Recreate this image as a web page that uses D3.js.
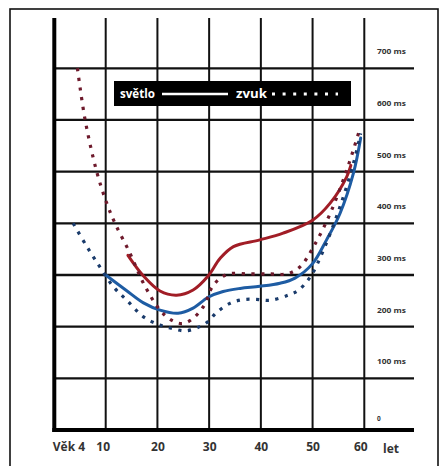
<!DOCTYPE html>
<html><head><meta charset="utf-8">
<script src="https://cdn.jsdelivr.net/npm/d3@7"></script>
<style>body{margin:0;background:#fff}svg{display:block}</style>
</head><body>
<script>
// ---- data ----
const ageTicks = [4, 10, 20, 30, 40, 50, 60];
const ageTickLabels = ["Věk 4", "10", "20", "30", "40", "50", "60"];
const msTicks = [0, 100, 200, 300, 400, 500, 600, 700];
const msTickLabels = ["0", "100 ms", "200 ms", "300 ms", "400 ms", "500 ms", "600 ms", "700 ms"];
const legendLabels = ["světlo", "zvuk"];

const redLightAge = [14.3, 17.3, 20.5, 23.7, 26.9, 29.8, 32.1, 34.7, 39.8, 44.3, 50, 53.4, 56.6, 57.4];
const redLightMs  = [338, 298, 269, 261, 271, 298, 332, 355, 368, 381, 406, 439, 490, 512];

const blueLightAge = [10, 14, 17.3, 20.5, 24.0, 26.9, 29.8, 32.7, 36, 39.8, 43.7, 46.6, 50, 52.7, 55.3, 57.9, 59.3];
const blueLightMs  = [300, 270, 246, 232, 226, 236, 257, 268, 274, 278, 284, 294, 322, 368, 419, 497, 565];

const redSoundAge = [6.7, 7.6, 8.95, 10.2, 11.8, 14.7, 17.3, 20.5, 22.8, 24.7, 26.5, 28.9, 30.8, 33.4, 38, 42, 45, 47.6, 50.2, 53.4, 56.6, 59.0];
const redSoundMs  = [700, 600, 500, 439, 400, 342, 284, 232, 212, 206, 213, 239, 280, 301, 302, 302, 302, 316, 355, 419, 503, 578];

const blueSoundAge = [6.2, 7.8, 9.3, 11.5, 14, 17.3, 20.5, 23.0, 25.5, 28.2, 29.8, 31.5, 34, 36.3, 39, 41.8, 45.3, 47.2, 49.6, 52.1, 55.3, 57.9, 59.3];
const blueSoundMs  = [400, 355, 316, 277, 252, 219, 203, 196, 192, 200, 210, 228, 245, 252, 253, 251, 261, 270, 297, 348, 432, 516, 574];

// ---- chart ----
const W = 440, H = 466;
const svg = d3.select("body").append("svg").attr("width", W).attr("height", H);
svg.append("rect").attr("width", W).attr("height", H).attr("fill", "#fff");
svg.append("rect").attr("x", 10).attr("y", 9).attr("width", 428).attr("height", 470)
  .attr("fill", "none").attr("stroke", "#111").attr("stroke-width", 1.6);

const x = d3.scaleLinear().domain([4, 10, 60]).range([54.3, 105.7, 364.3]);
const y = d3.scaleLinear().domain([0, 700]).range([430, 68.3]);
const xRight = 414, yTop = 18;

// horizontal grid
svg.append("g").selectAll("line").data(msTicks.filter(d => d > 0)).join("line")
  .attr("x1", x(4)).attr("x2", xRight).attr("y1", d => y(d)).attr("y2", d => y(d))
  .attr("stroke", "#111").attr("stroke-width", 2.3);
// vertical grid
svg.append("g").selectAll("line").data(ageTicks.filter(d => d > 4)).join("line")
  .attr("x1", d => x(d)).attr("x2", d => x(d)).attr("y1", yTop).attr("y2", y(0))
  .attr("stroke", "#111").attr("stroke-width", 2);
// axes lines
svg.append("line").attr("x1", x(4)).attr("x2", x(4)).attr("y1", yTop).attr("y2", y(0) + 2)
  .attr("stroke", "#000").attr("stroke-width", 4);
svg.append("line").attr("x1", x(4) - 2).attr("x2", xRight).attr("y1", y(0)).attr("y2", y(0))
  .attr("stroke", "#000").attr("stroke-width", 4);

// y labels
svg.append("g").selectAll("text").data(msTicks).join("text")
  .attr("x", 377).attr("y", d => d === 0 ? y(d) - 9 : y(d) - 14)
  .attr("font-family", "Open Sans, sans-serif").attr("font-size", 6.5).attr("font-weight", 700)
  .attr("fill", "#333").attr("textLength", d => d === 0 ? null : 29).attr("lengthAdjust", "spacingAndGlyphs")
  .text((d, i) => msTickLabels[i]);

// x axis labels through d3 axis
const xAxis = d3.axisBottom(x).tickValues(ageTicks).tickSize(0)
  .tickFormat((d, i) => ageTickLabels[i]);
const gx = svg.append("g").attr("transform", `translate(0,${y(0) + 9})`).call(xAxis);
gx.select(".domain").remove();
gx.selectAll("text").attr("font-family", "Open Sans, sans-serif").attr("font-size", 12)
  .attr("font-weight", 700).attr("fill", "#333");
gx.selectAll(".tick").filter(d => d === 4).select("text").attr("text-anchor", "start").attr("dx", -2);
gx.selectAll(".tick").filter(d => d === 10).select("text").attr("dx", -3);
gx.selectAll(".tick").filter(d => d === 60).select("text").attr("dx", -4);
svg.append("text").attr("x", 391).attr("y", y(0) + 23).attr("text-anchor", "middle")
  .attr("font-family", "Open Sans, sans-serif").attr("font-size", 12).attr("font-weight", 700)
  .attr("fill", "#333").text("let");

// curves
const line = d3.line().x(d => x(d[0])).y(d => y(d[1])).curve(d3.curveCatmullRom.alpha(0.5));
function draw(ages, ms, color, dotted) {
  const pts = ages.map((a, i) => [a, ms[i]]);
  const p = svg.append("path").attr("d", line(pts)).attr("fill", "none").attr("stroke", color);
  if (dotted) p.attr("stroke-width", 3.2).attr("stroke-dasharray", "3.2,6.5");
  else p.attr("stroke-width", 3).attr("stroke-linecap", "round");
}
draw(redLightAge, redLightMs, "#a11d26", false);
draw(blueLightAge, blueLightMs, "#1e5ca3", false);
draw(redSoundAge, redSoundMs, "#6e1a2c", true);
draw(blueSoundAge, blueSoundMs, "#1a3b6b", true);

// legend
const lg = svg.append("g");
lg.append("rect").attr("x", 114).attr("y", 81).attr("width", 237).attr("height", 25).attr("fill", "#000");
lg.append("text").attr("x", 120).attr("y", 98).attr("fill", "#fff")
  .attr("font-family", "Open Sans, sans-serif").attr("font-size", 11.5).attr("font-weight", 700)
  .attr("textLength", 35).attr("lengthAdjust", "spacingAndGlyphs").text(legendLabels[0]);
lg.append("line").attr("x1", 162).attr("x2", 228).attr("y1", 94).attr("y2", 94)
  .attr("stroke", "#fff").attr("stroke-width", 2.4);
lg.append("text").attr("x", 236).attr("y", 98).attr("fill", "#fff")
  .attr("font-family", "Open Sans, sans-serif").attr("font-size", 11.5).attr("font-weight", 700)
  .attr("textLength", 31).attr("lengthAdjust", "spacingAndGlyphs").text(legendLabels[1]);
lg.append("line").attr("x1", 272).attr("x2", 338).attr("y1", 94).attr("y2", 94)
  .attr("stroke", "#fff").attr("stroke-width", 3).attr("stroke-dasharray", "3,7.6");
</script>
</body></html>
